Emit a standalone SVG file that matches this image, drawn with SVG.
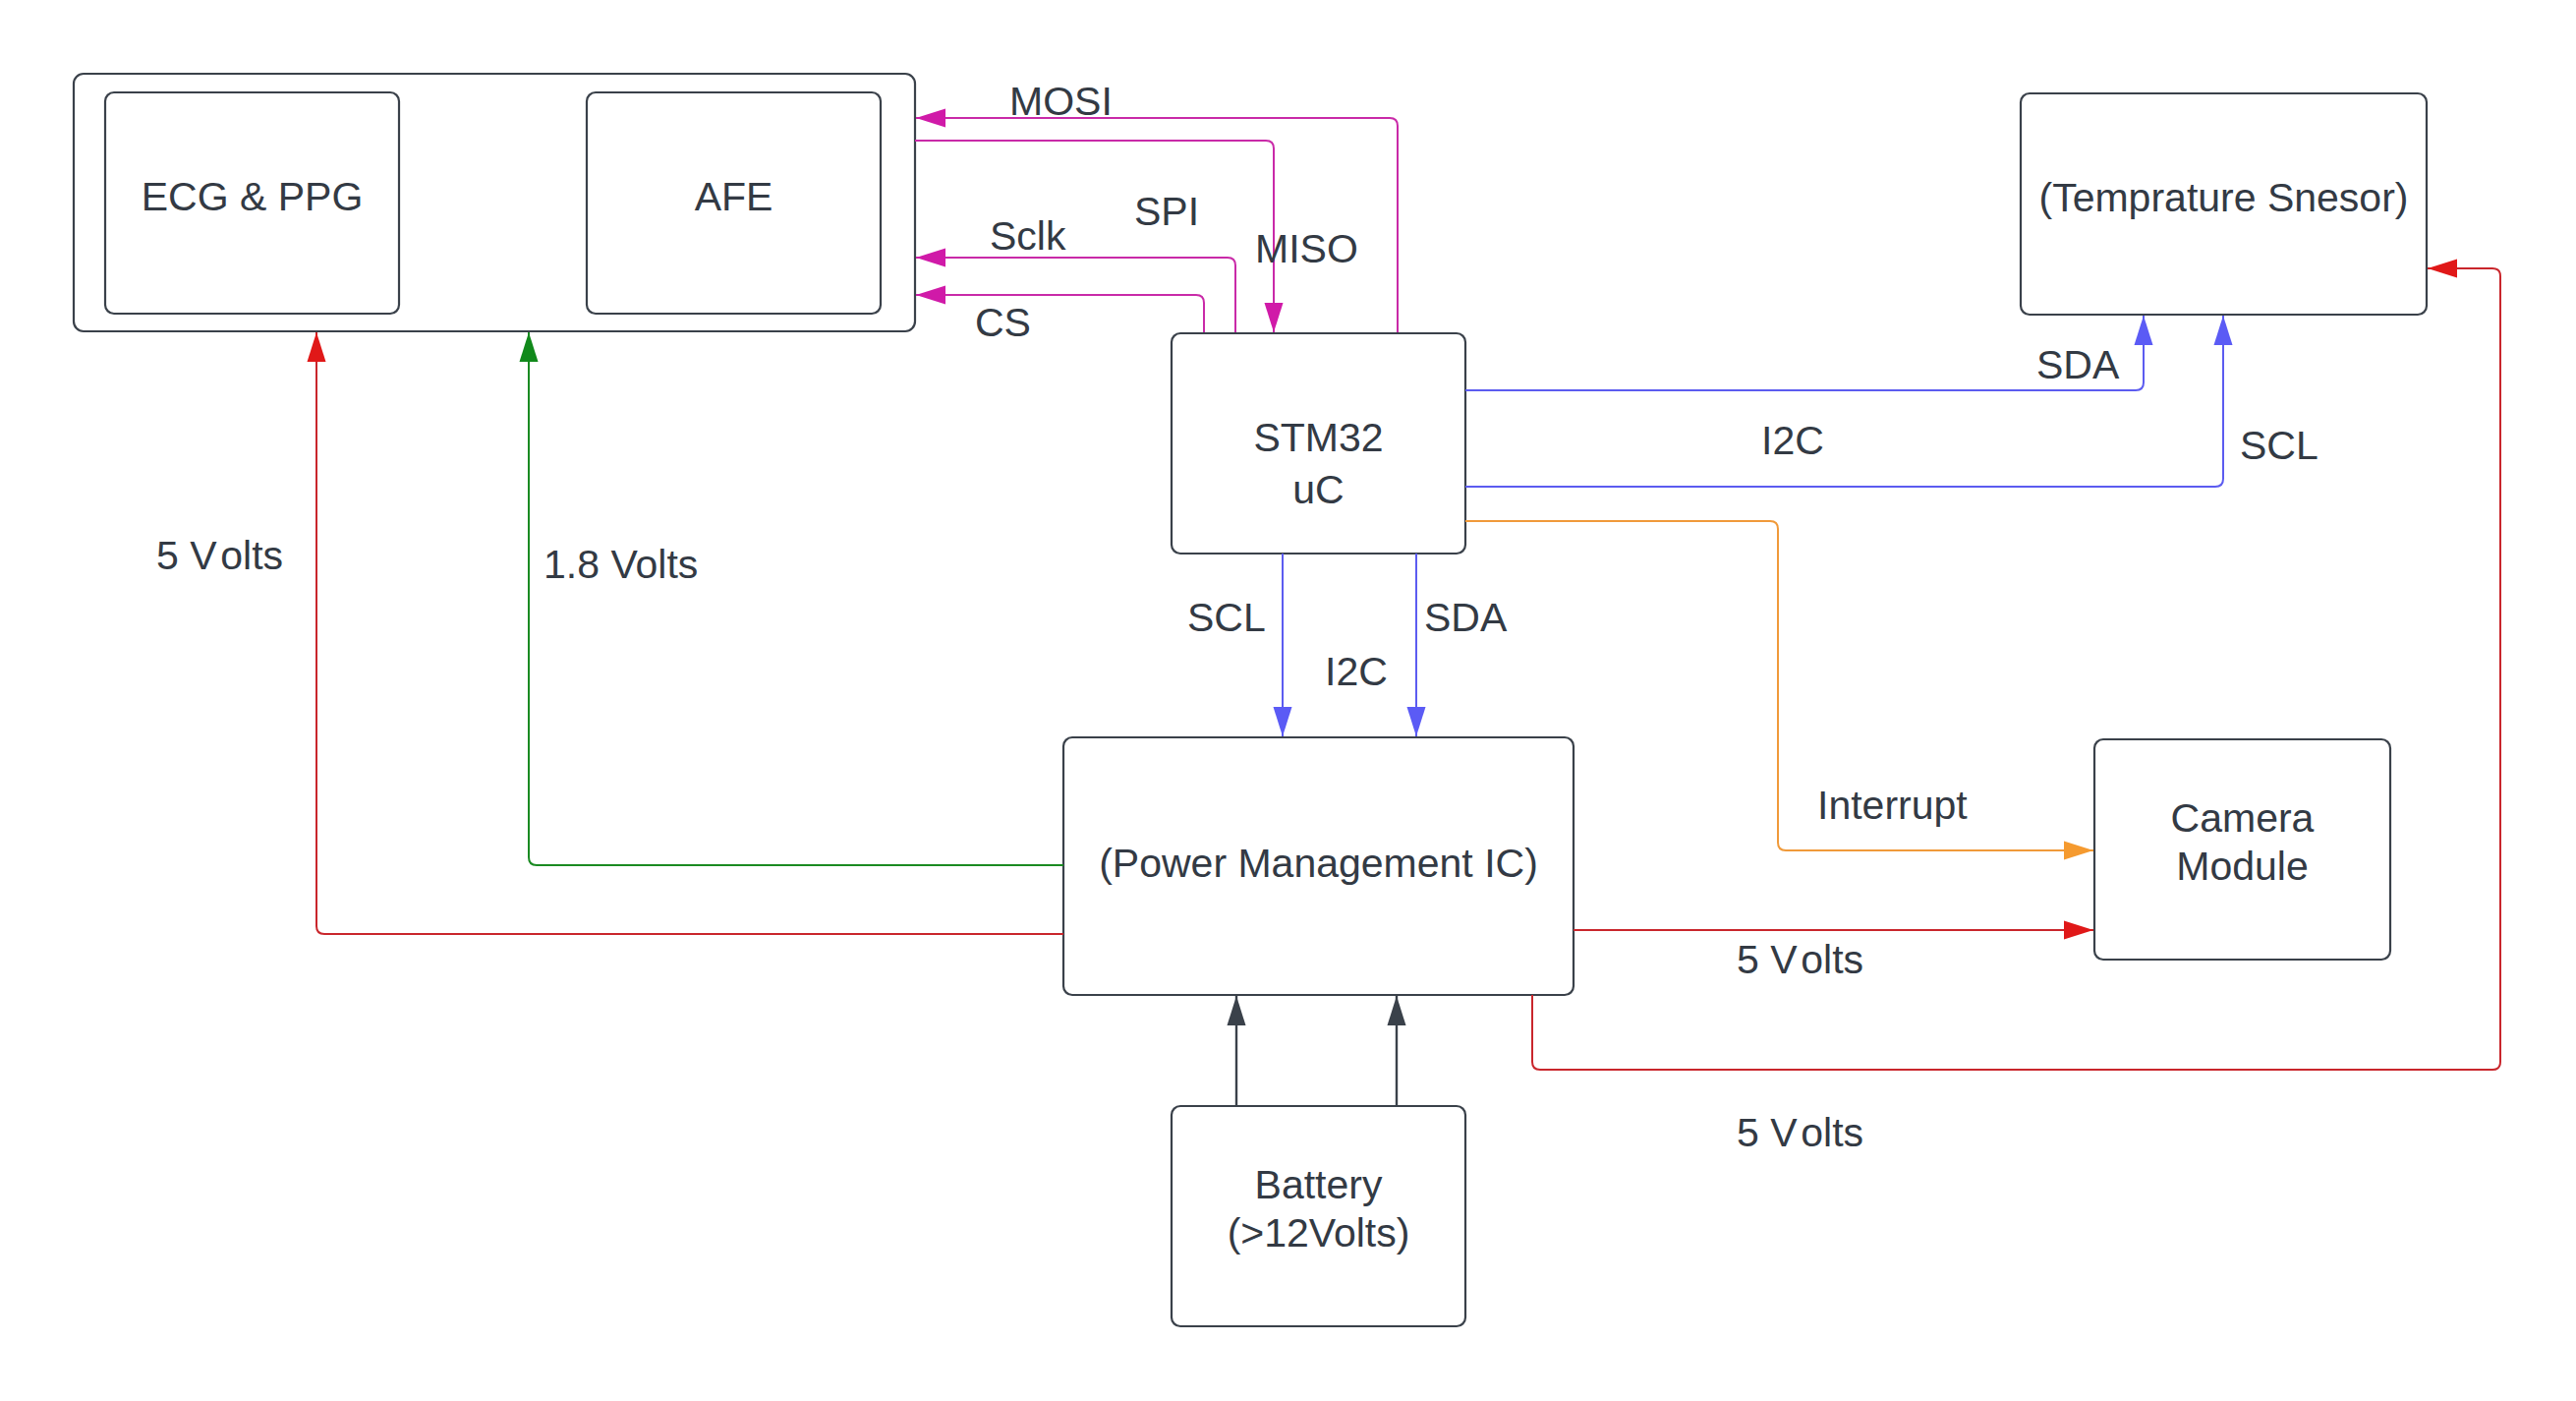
<svg xmlns="http://www.w3.org/2000/svg" width="2621" height="1425" viewBox="0 0 2621 1425">
<style>
.box{fill:#ffffff;stroke:#3a414a;stroke-width:2.2}
.t{font-family:"Liberation Sans",Arial,sans-serif;font-size:41px;fill:#333a44}
.m{text-anchor:middle}
.c{fill:none;stroke-width:2}
.mag{stroke:#c92aa8}
.blu{stroke:#5c5cf0}
.org{stroke:#f09a3a}
.red{stroke:#c9262c}
.grn{stroke:#1a8a22}
.blk{stroke:#3a414a;stroke-width:2.4}
</style>
<defs>
<marker id="aMag" markerUnits="userSpaceOnUse" markerWidth="30" markerHeight="20" refX="30" refY="10" orient="auto"><path d="M0,0.5 L30,10 L0,19.5 z" fill="#d01aa8"/></marker>
<marker id="aBlu" markerUnits="userSpaceOnUse" markerWidth="30" markerHeight="20" refX="30" refY="10" orient="auto"><path d="M0,0.5 L30,10 L0,19.5 z" fill="#5b5bf5"/></marker>
<marker id="aOrg" markerUnits="userSpaceOnUse" markerWidth="30" markerHeight="20" refX="30" refY="10" orient="auto"><path d="M0,0.5 L30,10 L0,19.5 z" fill="#f59a2f"/></marker>
<marker id="aRed" markerUnits="userSpaceOnUse" markerWidth="30" markerHeight="20" refX="30" refY="10" orient="auto"><path d="M0,0.5 L30,10 L0,19.5 z" fill="#e01818"/></marker>
<marker id="aGrn" markerUnits="userSpaceOnUse" markerWidth="30" markerHeight="20" refX="30" refY="10" orient="auto"><path d="M0,0.5 L30,10 L0,19.5 z" fill="#11891b"/></marker>
<marker id="aBlk" markerUnits="userSpaceOnUse" markerWidth="30" markerHeight="20" refX="30" refY="10" orient="auto"><path d="M0,0.5 L30,10 L0,19.5 z" fill="#3a414a"/></marker>
</defs>
<rect width="2621" height="1425" fill="#ffffff"/>

<g id="sensor-board">
<rect class="box" x="75" y="75" width="856" height="262" rx="10"/>
</g>
<g id="ecg-ppg">
<rect class="box" x="107" y="94" width="299" height="225" rx="9"/>
<text class="t m" x="256.5" y="214">ECG &amp; PPG</text>
</g>
<g id="afe">
<rect class="box" x="597" y="94" width="299" height="225" rx="9"/>
<text class="t m" x="746.5" y="214">AFE</text>
</g>
<g id="stm32">
<rect class="box" x="1192" y="339" width="299" height="224" rx="9"/>
<text class="t m" x="1341.5" y="459">STM32</text>
<text class="t m" x="1341.5" y="512">uC</text>
</g>
<g id="temp-sensor">
<rect class="box" x="2056" y="95" width="413" height="225" rx="9"/>
<text class="t m" x="2262.5" y="215">(Temprature Snesor)</text>
</g>
<g id="pmic">
<rect class="box" x="1082" y="750" width="519" height="262" rx="9"/>
<text class="t m" x="1341.5" y="892">(Power Management IC)</text>
</g>
<g id="camera">
<rect class="box" x="2131" y="752" width="301" height="224" rx="9"/>
<text class="t m" x="2281.5" y="846">Camera</text>
<text class="t m" x="2281.5" y="895">Module</text>
</g>
<g id="battery">
<rect class="box" x="1192" y="1125" width="299" height="224" rx="9"/>
<text class="t m" x="1341.5" y="1219">Battery</text>
<text class="t m" x="1341.5" y="1268">(&gt;12Volts)</text>
</g>

<g id="connectors">
<path class="c mag" d="M1422,338 V128 Q1422,120 1414,120 H932" marker-end="url(#aMag)"/>
<path class="c mag" d="M931,143 H1288 Q1296,143 1296,151 V338" marker-end="url(#aMag)"/>
<path class="c mag" d="M1257,338 V270 Q1257,262 1249,262 H932" marker-end="url(#aMag)"/>
<path class="c mag" d="M1225,338 V308 Q1225,300 1217,300 H932" marker-end="url(#aMag)"/>
<path class="c blu" d="M1491,397 H2173 Q2181,397 2181,389 V321" marker-end="url(#aBlu)"/>
<path class="c blu" d="M1491,495 H2254 Q2262,495 2262,487 V321" marker-end="url(#aBlu)"/>
<path class="c org" d="M1491,530 H1801 Q1809,530 1809,538 V857 Q1809,865 1817,865 H2130" marker-end="url(#aOrg)"/>
<path class="c blu" d="M1305,563 V749" marker-end="url(#aBlu)"/>
<path class="c blu" d="M1441,563 V749" marker-end="url(#aBlu)"/>
<path class="c grn" d="M1082,880 H546 Q538,880 538,872 V338" marker-end="url(#aGrn)"/>
<path class="c red" d="M1082,950 H330 Q322,950 322,942 V338" marker-end="url(#aRed)"/>
<path class="c red" d="M1601,946 H2130" marker-end="url(#aRed)"/>
<path class="c red" d="M1559,1012 V1080 Q1559,1088 1567,1088 H2536 Q2544,1088 2544,1080 V281 Q2544,273 2536,273 H2470" marker-end="url(#aRed)"/>
<path class="c blk" d="M1258,1125 V1013" marker-end="url(#aBlk)"/>
<path class="c blk" d="M1421,1125 V1013" marker-end="url(#aBlk)"/>
</g>

<g id="labels">
<text class="t" x="1027" y="117">MOSI</text>
<text class="t" x="1154" y="229">SPI</text>
<text class="t" x="1007" y="254">Sclk</text>
<text class="t" x="1277" y="267">MISO</text>
<text class="t" x="992" y="342">CS</text>
<text class="t" x="2072" y="385">SDA</text>
<text class="t" x="2279" y="467">SCL</text>
<text class="t" x="1792" y="462">I2C</text>
<text class="t" x="1208" y="642">SCL</text>
<text class="t" x="1449" y="642">SDA</text>
<text class="t" x="1348" y="697">I2C</text>
<text class="t" x="1849" y="833">Interrupt</text>
<text class="t" x="1767" y="990">5 V<tspan dx="6">olts</tspan></text>
<text class="t" x="1767" y="1166">5 V<tspan dx="6">olts</tspan></text>
<text class="t" x="159" y="579">5 V<tspan dx="6">olts</tspan></text>
<text class="t" x="553" y="588">1.8 Volts</text>
</g>
</svg>
